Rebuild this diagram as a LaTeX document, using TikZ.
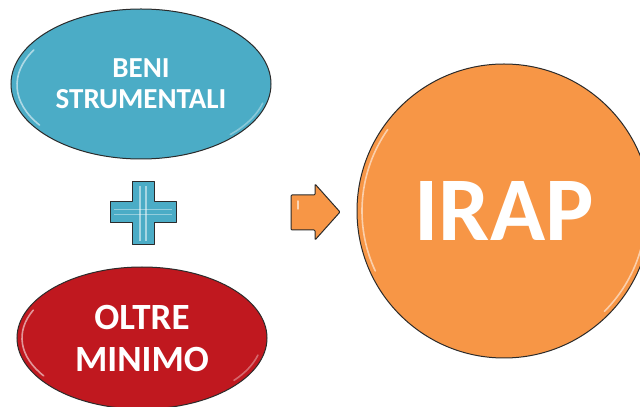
\documentclass[tikz,border=0pt]{standalone}
\usepackage{fontspec}
\setmainfont{Carlito}
\usetikzlibrary{shapes.geometric}
\definecolor{tealfill}{HTML}{4BACC6}
\definecolor{redfill}{HTML}{C0181F}
\definecolor{orangefill}{HTML}{F79646}
\definecolor{edge}{HTML}{2B2B2B}
\tikzset{
  blob/.style={ellipse, draw=edge, line width=1pt, inner sep=0pt, text=white, align=center},
  shine/.style={draw=white, opacity=0.55, line width=1.6pt, line cap=round},
  symbol/.style={draw=edge, line width=1pt, line join=round},
}
\begin{document}
\begin{tikzpicture}[x=1pt, y=1pt]
  \useasboundingbox (0,0) rectangle (640,407);
  \clip (0,0) rectangle (640,407);
  \fill[white] (0,0) rectangle (640,407);

  % upper ellipse
  \node[blob, fill=tealfill, minimum width=260pt, minimum height=150pt,
        font=\bfseries\fontsize{29}{31}\selectfont] (beni) at (141,323) {BENI\\STRUMENTALI};
  \draw[shine] (142,322) ++(215:125 and 70) arc[start angle=215, end angle=150, x radius=125, y radius=70];
  \draw[shine, opacity=0.35] (142,322) ++(-15:125 and 70) arc[start angle=-15, end angle=-45, x radius=125, y radius=70];

  % lower ellipse
  \node[blob, fill=redfill, minimum width=250pt, minimum height=142pt,
        font=\bfseries\fontsize{37}{42}\selectfont] (oltre) at (142,69) {OLTRE\\MINIMO};
  \draw[shine] (142,69) ++(215:120 and 66) arc[start angle=215, end angle=155, x radius=120, y radius=66];
  \draw[shine, opacity=0.35] (142,69) ++(-15:120 and 66) arc[start angle=-15, end angle=-40, x radius=120, y radius=66];

  % plus sign
  \draw[symbol, fill=tealfill]
    (132,225) -- (154,225) -- (154,205) -- (176,205) -- (176,184) -- (154,184)
    -- (154,162) -- (132,162) -- (132,184) -- (110,184) -- (110,205) -- (132,205) -- cycle;
  \draw[white, opacity=0.5, line width=1.2pt] (140,221) -- (140,166) (146,221) -- (146,166);
  \draw[white, opacity=0.4, line width=1pt] (114,197) -- (172,197) (114,192) -- (172,192);

  % arrow
  \draw[symbol, fill=orangefill, rounded corners=1pt]
    (291,212) -- (315,212) -- (315,223) -- (340,195) -- (315,167) -- (315,177) -- (291,177) -- cycle;
  \draw[white, opacity=0.6, line width=1.5pt, line cap=round] (298,206) -- (298,198);

  % circle
  \node[circle, draw=edge, line width=1pt, fill=orangefill, minimum size=294pt, inner sep=0pt,
        text=white, font=\bfseries\fontsize{91}{100}\selectfont] (irap) at (504,196) {IRAP};
  \draw[shine] (504,196) ++(205:142) arc[start angle=205, end angle=145, radius=142];
  \draw[shine] (504,196) ++(-15:142) arc[start angle=-15, end angle=-45, radius=142];
\end{tikzpicture}
\end{document}
